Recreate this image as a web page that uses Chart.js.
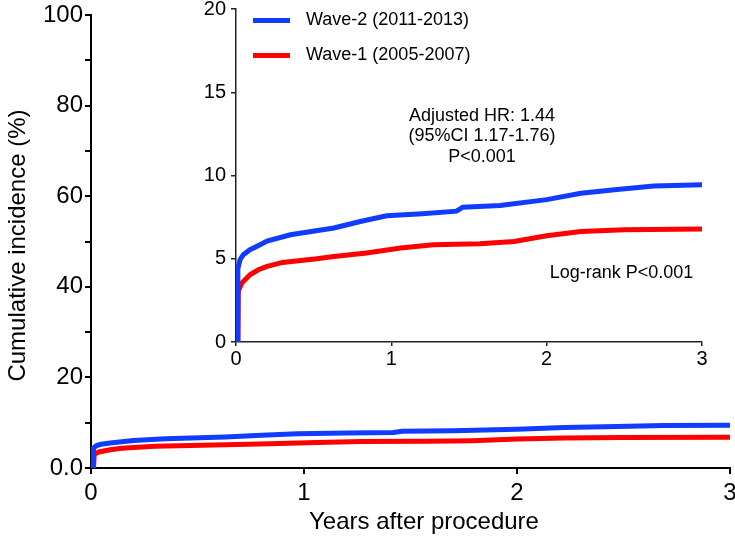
<!DOCTYPE html>
<html lang="en">
<head>
    <meta charset="UTF-8">
    <title>Cumulative incidence by wave</title>
    <script src="https://cdn.jsdelivr.net/npm/chart.js"></script>
    <style>
        body { margin: 0; background: #fff; overflow: hidden; }
        #wrap { position: relative; width: 735px; height: 539px; overflow: hidden; }
        #mainChart { position: absolute; left: 0; top: -20px; }
        #insetChart { position: absolute; left: 180px; top: -20px; }
    </style>
</head>
<body>
<div id="wrap">
    <canvas id="mainChart" width="760" height="559"></canvas>
    <canvas id="insetChart" width="540" height="400"></canvas>
</div>
<script>
// Kaplan-Meier style cumulative incidence (%), years after procedure
const wave2Label = 'Wave-2 (2011-2013)';
const wave2Years = [0, 0.008, 0.012, 0.026, 0.047, 0.09, 0.155, 0.2, 0.35, 0.63, 0.8, 0.97, 1.2, 1.42, 1.46, 1.7, 2.0, 2.22, 2.47, 2.69, 3.0];
const wave2Incidence = [0, 0, 4.4, 4.94, 5.24, 5.54, 5.84, 6.06, 6.44, 6.85, 7.24, 7.58, 7.7, 7.86, 8.1, 8.2, 8.55, 8.93, 9.17, 9.37, 9.45];

const wave1Label = 'Wave-1 (2005-2007)';
const wave1Years = [0, 0.012, 0.015, 0.037, 0.09, 0.144, 0.2, 0.3, 0.52, 0.63, 0.84, 1.06, 1.27, 1.57, 1.79, 2.0, 2.22, 2.5, 3.0];
const wave1Incidence = [0, 0, 3.04, 3.54, 4.04, 4.34, 4.54, 4.78, 5.0, 5.14, 5.35, 5.65, 5.84, 5.9, 6.04, 6.38, 6.64, 6.74, 6.79];

const mainYTicks = [0, 20, 40, 60, 80, 100];
const insetYTicks = [0, 5, 10, 15, 20];
const xTicks = [0, 1, 2, 3];

const xTitle = 'Years after procedure';
const yTitle = 'Cumulative incidence (%)';
const hrNote = ['Adjusted HR: 1.44', '(95%CI 1.17-1.76)', 'P<0.001'];
const logRankNote = 'Log-rank P<0.001';

const BLUE = '#0f3cff';
const RED = '#ff0000';
const FONT = '"Liberation Sans", Arial, sans-serif';

function points(xs, ys) {
    return xs.map((x, i) => ({ x: x, y: ys[i] }));
}

function makeDatasets(width) {
    return [
        { label: wave2Label, data: points(wave2Years, wave2Incidence), borderColor: BLUE, borderWidth: width,
          pointRadius: 0, tension: 0, fill: false },
        { label: wave1Label, data: points(wave1Years, wave1Incidence), borderColor: RED, borderWidth: width,
          pointRadius: 0, tension: 0, fill: false }
    ];
}

// axis titles for the large chart
const axisTitles = {
    id: 'axisTitles',
    afterDraw(chart) {
        const { ctx, chartArea } = chart;
        ctx.save();
        ctx.fillStyle = '#000';
        ctx.font = '24px ' + FONT;
        ctx.textAlign = 'center';
        ctx.textBaseline = 'middle';
        ctx.fillText(xTitle, chartArea.left + 333, chartArea.bottom + 54);
        ctx.translate(18, (chartArea.top + chartArea.bottom) / 2 + 4);
        ctx.rotate(-Math.PI / 2);
        ctx.fillText(yTitle, 0, 0);
        ctx.restore();
    }
};

// legend and statistics text inside the zoomed panel
const insetNotes = {
    id: 'insetNotes',
    afterDatasetsDraw(chart) {
        const { ctx, chartArea, scales: { x, y } } = chart;
        ctx.save();
        ctx.font = '18px ' + FONT;
        ctx.textBaseline = 'middle';
        ctx.fillStyle = '#000';
        chart.data.datasets.forEach((ds, i) => {
            const ly = chartArea.top + 11.5 + i * 35;
            ctx.strokeStyle = ds.borderColor;
            ctx.lineWidth = 5;
            ctx.beginPath();
            ctx.moveTo(chartArea.left + 17, ly);
            ctx.lineTo(chartArea.left + 54, ly);
            ctx.stroke();
            ctx.textAlign = 'left';
            ctx.fillText(ds.label, chartArea.left + 70, ly);
        });
        ctx.textAlign = 'center';
        hrNote.forEach((line, i) => {
            ctx.fillText(line, x.getPixelForValue(1.584), y.getPixelForValue(13.6) + i * 20.5);
        });
        ctx.textAlign = 'left';
        ctx.fillText(logRankNote, x.getPixelForValue(2.02), y.getPixelForValue(4.14));
        ctx.restore();
    }
};

new Chart(document.getElementById('mainChart'), {
    type: 'line',
    data: { datasets: makeDatasets(5) },
    options: {
        responsive: false,
        animation: false,
        layout: { padding: { top: 35, right: 30, left: 0, bottom: 0 } },
        plugins: { legend: { display: false }, tooltip: { enabled: false } },
        scales: {
            x: {
                type: 'linear', min: 0, max: 3,
                afterFit(scale) { scale.height = 71; },
                afterBuildTicks(scale) { scale.ticks = xTicks.map(v => ({ value: v })); },
                grid: { drawOnChartArea: false, tickLength: 6, color: '#000', lineWidth: 2 },
                border: { color: '#000', width: 2 },
                ticks: { color: '#000', font: { size: 24, family: FONT }, padding: 5, maxRotation: 0 }
            },
            y: {
                min: 0, max: 100,
                afterFit(scale) { scale.width = 91; },
                grid: { drawOnChartArea: false, tickLength: 6, color: '#000', lineWidth: 2 },
                border: { color: '#000', width: 2 },
                ticks: {
                    stepSize: 10,
                    color: '#000',
                    font: { size: 24, family: FONT },
                    padding: 2,
                    callback: v => mainYTicks.includes(v) ? (v === 0 ? '0.0' : String(v)) : ''
                }
            }
        }
    },
    plugins: [axisTitles]
});

new Chart(document.getElementById('insetChart'), {
    type: 'line',
    data: { datasets: makeDatasets(5) },
    options: {
        responsive: false,
        animation: false,
        layout: { padding: { top: 29, right: 18, left: 0, bottom: 0 } },
        plugins: { legend: { display: false }, tooltip: { enabled: false } },
        scales: {
            x: {
                type: 'linear', min: 0, max: 3,
                afterFit(scale) { scale.height = 38; },
                afterBuildTicks(scale) { scale.ticks = xTicks.map(v => ({ value: v })); },
                grid: { drawOnChartArea: false, tickLength: 4, color: '#222', lineWidth: 1.5 },
                border: { color: '#222', width: 1.5 },
                ticks: { color: '#000', font: { size: 20, family: FONT }, padding: 1, maxRotation: 0 }
            },
            y: {
                min: 0, max: 20,
                afterFit(scale) { scale.width = 56; },
                afterBuildTicks(scale) { scale.ticks = insetYTicks.map(v => ({ value: v })); },
                grid: { drawOnChartArea: false, tickLength: 5, color: '#222', lineWidth: 1.5 },
                border: { color: '#222', width: 1.5 },
                ticks: { color: '#000', font: { size: 20, family: FONT }, padding: 5 }
            }
        }
    },
    plugins: [insetNotes]
});
</script>
</body>
</html>
